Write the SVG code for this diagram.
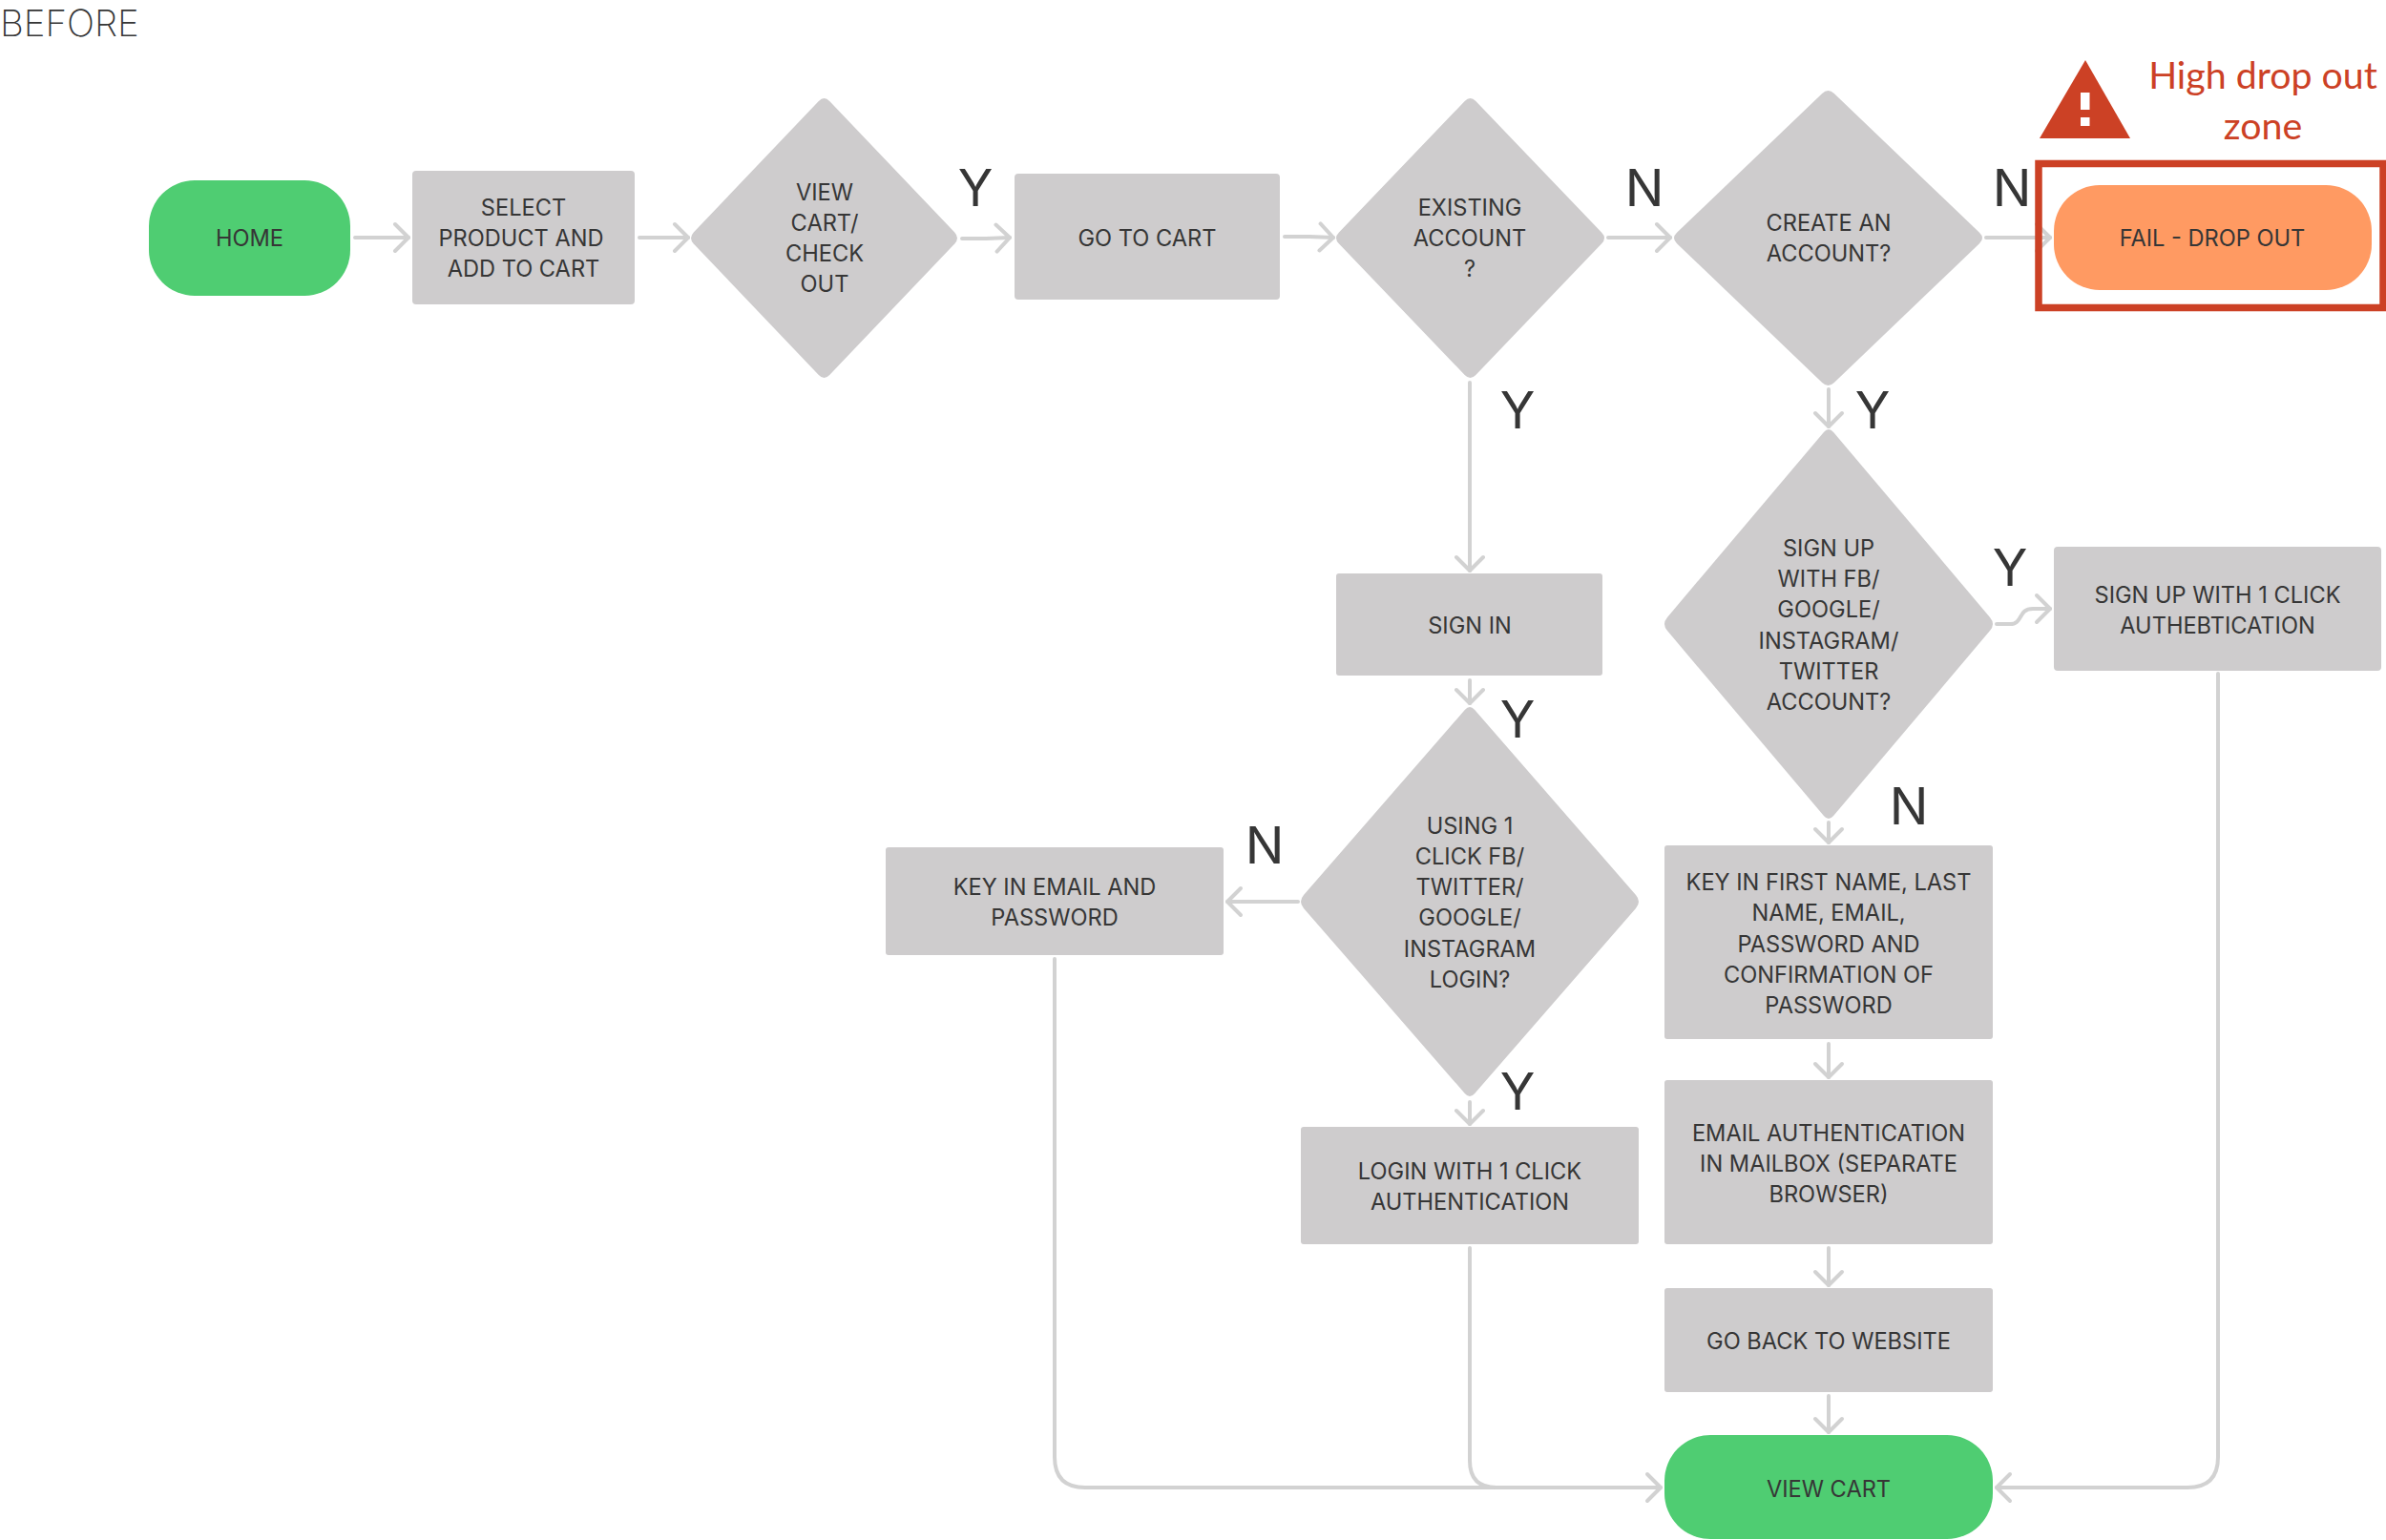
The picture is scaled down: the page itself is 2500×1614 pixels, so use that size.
<svg xmlns="http://www.w3.org/2000/svg" width="2500" height="1614" viewBox="0 0 2500 1614">
<style>
text{font-family:Inter,"Liberation Sans",sans-serif;text-anchor:middle;fill:#363636}
.t{font-size:23.600px}
.b{fill:#cecccd}
.g{fill:#4fcd72}
.yn{font-size:54px;font-weight:400}
.c{fill:none;stroke:#d2d2d2;stroke-width:4;stroke-linecap:round;stroke-linejoin:round}
.r{fill:#cc4125}
</style>
<defs><marker id="a" markerUnits="userSpaceOnUse" markerWidth="30" markerHeight="40" refX="24" refY="20" orient="auto" viewBox="0 0 30 40"><path d="M10 6L24 20L10 34" fill="none" stroke="#d2d2d2" stroke-width="4" stroke-linecap="round" stroke-linejoin="round"/></marker></defs>
<rect width="2500" height="1614" fill="#fff"/>
<text x="0" y="38" style="text-anchor:start;font-size:38.500px;font-weight:200">BEFORE</text>
<g id="connectors" class="c">
<path marker-end="url(#a)" d="M372 249H428"/>
<path marker-end="url(#a)" d="M670 249H721"/>
<path marker-end="url(#a)" d="M1008 250H1033L1058 249"/>
<path marker-end="url(#a)" d="M1346 248H1372L1397 249"/>
<path marker-end="url(#a)" d="M1685 249H1750"/>
<path marker-end="url(#a)" d="M2081 249H2148"/>
<path marker-end="url(#a)" d="M1540 401V598"/>
<path marker-end="url(#a)" d="M1916 408V447"/>
<path marker-end="url(#a)" d="M1540 713V737"/>
<path marker-end="url(#a)" d="M1916 862V883"/>
<path marker-end="url(#a)" d="M2092 654H2106C2120 654 2114 638 2130 638H2148"/>
<path marker-end="url(#a)" d="M1360 945H1286"/>
<path marker-end="url(#a)" d="M1540 1155V1178"/>
<path marker-end="url(#a)" d="M1916 1094V1129"/>
<path marker-end="url(#a)" d="M1916 1308V1347"/>
<path marker-end="url(#a)" d="M1916 1463V1501"/>
<path marker-end="url(#a)" d="M1105 1005V1527Q1105 1559 1137 1559H1740"/>
<path d="M1540 1308V1531Q1540 1559 1568 1559H1600"/>
<path marker-end="url(#a)" d="M2324 706V1527Q2324 1559 2292 1559H2092"/>
</g>
<g id="home"><rect class="g" x="156" y="189" width="211" height="121" rx="48"/><text class="t" x="261.500" y="258">HOME</text></g>
<g id="select"><rect class="b" x="432" y="179" width="233" height="140" rx="4"/><text class="t"><tspan x="548.500" y="226">SELECT</tspan><tspan x="546" y="258">PRODUCT AND</tspan><tspan x="548.500" y="290">ADD TO CART</tspan></text></g>
<g id="view-cart-check-out"><path class="b" d="M857.800 106Q863.500 100 869.200 106L1000 243.200Q1006 249.500 1000 255.800L869.200 393Q863.500 399 857.800 393L727 255.800Q721 249.500 727 243.200Z"/><text class="t"><tspan x="864" y="210">VIEW</tspan><tspan x="864" y="242">CART/</tspan><tspan x="864" y="274">CHECK</tspan><tspan x="864" y="306">OUT</tspan></text></g>
<g id="go-to-cart"><rect class="b" x="1063" y="182" width="278" height="132" rx="4"/><text class="t" x="1202" y="258">GO TO CART</text></g>
<g id="existing-account"><path class="b" d="M1534.700 106Q1540.500 100 1546.300 106L1678 243.500Q1684 249.500 1678 255.500L1546.300 393Q1540.500 399 1534.700 393L1403 255.500Q1397 249.500 1403 243.500Z"/><text class="t"><tspan x="1540" y="226">EXISTING</tspan><tspan x="1540" y="258">ACCOUNT</tspan><tspan x="1540" y="290">?</tspan></text></g>
<g id="create-account"><path class="b" d="M1909.200 98Q1915.500 92 1921.800 98L2074 243.800Q2080 249.500 2074 255.200L1921.800 401Q1915.500 407 1909.200 401L1757 255.200Q1751 249.500 1757 243.800Z"/><text class="t"><tspan x="1916" y="242">CREATE AN</tspan><tspan x="1916" y="274">ACCOUNT?</tspan></text></g>
<g id="fail-drop-out"><rect style="fill:#ff9a62" x="2152" y="194" width="333" height="110" rx="48"/><text class="t" x="2318" y="258">FAIL - DROP OUT</text></g>
<g id="drop-out-zone">
<rect x="2136" y="171.500" width="361" height="151" fill="none" stroke="#cc4125" stroke-width="7.500"/>
<path class="r" d="M2185 63L2232 145H2137Z"/><rect x="2180" y="97" width="9.500" height="18" fill="#fff"/><rect x="2180" y="123" width="9.500" height="9" fill="#fff"/>
<text style="fill:#cc4125;font-size:39.300px;font-family:Lato,sans-serif"><tspan x="2371" y="93">High drop out</tspan><tspan x="2371" y="146">zone</tspan></text>
</g>
<g id="sign-in"><rect class="b" x="1400" y="601" width="279" height="107" rx="3"/><text class="t" x="1540" y="664">SIGN IN</text></g>
<g id="sign-up-with"><path class="b" d="M1910.900 453Q1916 447 1921.100 453L2085 646.900Q2091 654 2085 661.100L1921.100 855Q1916 861 1910.900 855L1747 661.100Q1741 654 1747 646.900Z"/><text class="t"><tspan x="1916" y="583">SIGN UP</tspan><tspan x="1916" y="615">WITH FB/</tspan><tspan x="1916" y="647">GOOGLE/</tspan><tspan x="1916" y="680">INSTAGRAM/</tspan><tspan x="1916" y="712">TWITTER</tspan><tspan x="1916" y="744">ACCOUNT?</tspan></text></g>
<g id="sign-up-1-click"><rect class="b" x="2152" y="573" width="343" height="130" rx="4"/><text class="t"><tspan x="2323.500" y="632">SIGN UP WITH 1 CLICK</tspan><tspan x="2323.500" y="664">AUTHEBTICATION</tspan></text></g>
<g id="using-1-click"><path class="b" d="M1534.800 744Q1540 738 1545.200 744L1714 938.100Q1720 945 1714 951.900L1545.200 1146Q1540 1152 1534.800 1146L1366 951.900Q1360 945 1366 938.100Z"/><text class="t"><tspan x="1540" y="874">USING 1</tspan><tspan x="1540" y="906">CLICK FB/</tspan><tspan x="1540" y="938">TWITTER/</tspan><tspan x="1540" y="970">GOOGLE/</tspan><tspan x="1540" y="1003">INSTAGRAM</tspan><tspan x="1540" y="1035">LOGIN?</tspan></text></g>
<g id="key-in-email"><rect class="b" x="928" y="888" width="354" height="113" rx="3"/><text class="t"><tspan x="1105" y="938">KEY IN EMAIL AND</tspan><tspan x="1105" y="970">PASSWORD</tspan></text></g>
<g id="key-in-first-name"><rect class="b" x="1744" y="886" width="344" height="203" rx="3"/><text class="t"><tspan x="1916" y="933">KEY IN FIRST NAME, LAST</tspan><tspan x="1916" y="965">NAME, EMAIL,</tspan><tspan x="1916" y="998">PASSWORD AND</tspan><tspan x="1916" y="1030">CONFIRMATION OF</tspan><tspan x="1916" y="1062">PASSWORD</tspan></text></g>
<g id="login-1-click"><rect class="b" x="1363" y="1181" width="354" height="123" rx="3"/><text class="t"><tspan x="1540" y="1236">LOGIN WITH 1 CLICK</tspan><tspan x="1540" y="1268">AUTHENTICATION</tspan></text></g>
<g id="email-authentication"><rect class="b" x="1744" y="1132" width="344" height="172" rx="3"/><text class="t"><tspan x="1916" y="1196">EMAIL AUTHENTICATION</tspan><tspan x="1916" y="1228">IN MAILBOX (SEPARATE</tspan><tspan x="1916" y="1260">BROWSER)</tspan></text></g>
<g id="go-back"><rect class="b" x="1744" y="1350" width="344" height="109" rx="3"/><text class="t" x="1916" y="1414">GO BACK TO WEBSITE</text></g>
<g id="view-cart"><rect class="g" x="1744" y="1504" width="344" height="109" rx="48"/><text class="t" x="1916" y="1569">VIEW CART</text></g>
<g id="labels">
<text class="yn" x="1022" y="216">Y</text><text class="yn" x="1723" y="216">N</text><text class="yn" x="2108" y="216">N</text>
<text class="yn" x="1590" y="449">Y</text><text class="yn" x="1962" y="449">Y</text><text class="yn" x="2106" y="614">Y</text>
<text class="yn" x="1590" y="773">Y</text><text class="yn" x="2000" y="864">N</text><text class="yn" x="1325" y="905">N</text><text class="yn" x="1590" y="1163">Y</text>
</g>
</svg>
